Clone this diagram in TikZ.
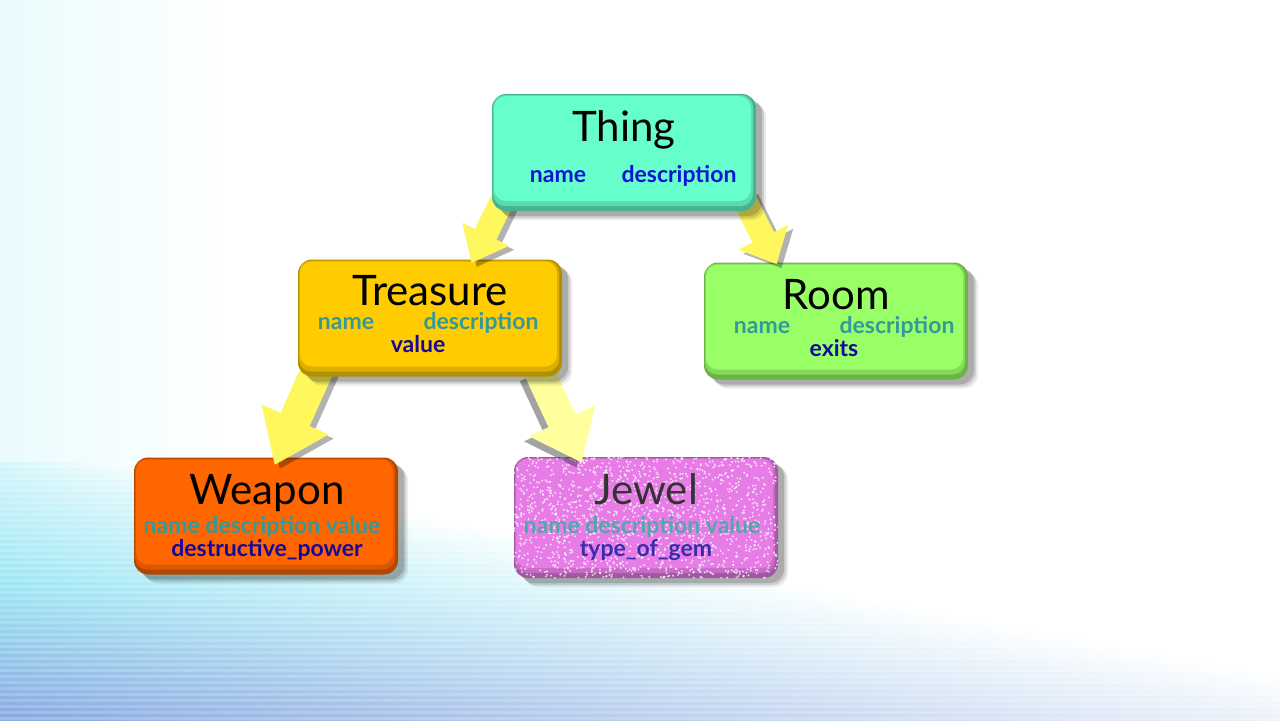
\documentclass[tikz,border=0pt]{standalone}
\usepackage{fontspec}
\setmainfont{Lato}
\usetikzlibrary{arrows.meta,shadows}
\pgfdeclarelayer{back}
\pgfdeclarelayer{lowbox}
\pgfdeclarelayer{lowarrow}
\pgfdeclarelayer{midbox}
\pgfdeclarelayer{midarrow}
\pgfsetlayers{back,lowbox,lowarrow,midbox,midarrow,main}
\definecolor{cThing}{HTML}{66FFCC}
\definecolor{cTreasure}{HTML}{FFCC00}
\definecolor{cRoom}{HTML}{99FF66}
\definecolor{cWeapon}{HTML}{FF6600}
\definecolor{cJewel}{HTML}{E77CE7}
\definecolor{attrBlue}{HTML}{0A14D2}
\definecolor{inhTeal}{HTML}{33999A}
\definecolor{ownBlue}{HTML}{14089C}
\definecolor{arrowY}{HTML}{FFF75E}
\definecolor{arrowJ}{HTML}{FFFF9E}
\definecolor{bgLeft}{HTML}{EAFBFD}
\definecolor{bgTop}{HTML}{D2F5FA}
\definecolor{bgMid}{HTML}{A0E6F3}
\definecolor{bgBot}{HTML}{8AABE0}
\begin{document}
\begin{tikzpicture}[x=0.5pt,y=-0.5pt,
  box/.style={rounded corners=7pt, minimum width=132pt, minimum height=58.5pt,
    inner sep=0pt, fill=#1!70!black,
    general shadow={fill=black, opacity=0.08, shadow xshift=5pt, shadow yshift=-4.5pt},
    general shadow={fill=black, opacity=0.12, shadow xshift=4pt, shadow yshift=-3.5pt},
    general shadow={fill=black, opacity=0.16, shadow xshift=3pt, shadow yshift=-2.5pt},
    path picture={
      \fill[#1!86!black, rounded corners=6pt]
        ([shift={(0.5pt,-0.5pt)}]path picture bounding box.north west) rectangle
        ([shift={(-1.5pt,2.5pt)}]path picture bounding box.south east);
      \fill[#1, rounded corners=6pt]
        ([shift={(1pt,-1pt)}]path picture bounding box.north west) rectangle
        ([shift={(-2.5pt,5pt)}]path picture bounding box.south east);
    }},
  title/.style={font=\fontsize{21}{24}\selectfont, text=black, anchor=base, inner sep=0pt},
  attr/.style={font=\fontsize{11.5}{13}\selectfont\bfseries, anchor=base, inner sep=0pt},
  bigarrow/.style args={#1/#2/#3}{line width=#1, draw=arrowY,
    -{Triangle[length=#3,width=#2]}},
  arrowshadow/.style={draw=black, transform canvas={shift={(2.5pt,-2pt)}}}
]
\useasboundingbox (0,0) rectangle (1280,720);

% ---------- background ----------
\begin{pgfonlayer}{back}
  \fill[white] (0,0) rectangle (1280,720);
  \shade[left color=bgLeft, right color=white] (0,0) rectangle (235,720);
  \begin{scope}
    \clip (0,0) rectangle (1280,720);
    \foreach \i in {0,...,86}{
      \pgfmathsetmacro\yy{462+3*\i}
      \pgfmathsetmacro\xe{140+3*\i*5.4}
      \ifnum\i<40
        \pgfmathtruncatemacro\pc{\i*100/39}
        \colorlet{bandc}{bgMid!\pc!bgTop}
      \else
        \pgfmathtruncatemacro\pc{min(100,(\i-40)*100/44)}
        \colorlet{bandc}{bgBot!\pc!bgMid}
      \fi
      \ifodd\i \colorlet{bandc}{bandc!82!white}\fi
      \shade[left color=bandc, middle color=bandc!60!white, right color=white]
        (0,\yy) rectangle (\xe,{\yy+3});
    }
  \end{scope}
\end{pgfonlayer}

% ---------- Thing ----------
\node[box=cThing] (thing) at (624,152.5) {};
\node[title] (thingT) at (624,141) {Thing};
\node[attr, text=attrBlue] (thingA1) at (558,182) {name};
\node[attr, text=attrBlue] (thingA2) at (679,182) {description};

% ---------- Treasure and Room ----------
\begin{pgfonlayer}{midbox}
  \node[box=cTreasure] (treasure) at (430,318) {};
  \node[title] (treasureT) at (430,305) {Treasure};
  \node[attr, text=inhTeal] (treasureA1) at (346,329) {name};
  \node[attr, text=inhTeal] (treasureA2) at (481,329) {description};
  \node[attr, text=ownBlue] (treasureA3) at (418,352) {value};

  \node[box=cRoom] (room) at (836,321) {};
  \node[title] (roomT) at (836,309) {Room};
  \node[attr, text=inhTeal] (roomA1) at (762,333) {name};
  \node[attr, text=inhTeal] (roomA2) at (897,333) {description};
  \node[attr, text=ownBlue] (roomA3) at (834,356) {exits};
\end{pgfonlayer}

% ---------- arrows from Thing ----------
\begin{pgfonlayer}{midarrow}
  \begin{scope}[transparency group, opacity=0.3]
    \draw[bigarrow=12pt/25pt/16pt, arrowshadow]
      ([shift={(6.5pt,8pt)}]thing.south west) -- ([shift={(87pt,-2pt)}]treasure.north west);
    \draw[bigarrow=12pt/27pt/15pt, arrowshadow]
      ([shift={(-7pt,8pt)}]thing.south east) -- ([shift={(36.5pt,-1pt)}]room.north west);
  \end{scope}
  \draw[bigarrow=12pt/25pt/16pt]
    ([shift={(6.5pt,8pt)}]thing.south west) -- ([shift={(87pt,-2pt)}]treasure.north west);
  \draw[bigarrow=12pt/27pt/15pt]
    ([shift={(-7pt,8pt)}]thing.south east) -- ([shift={(36.5pt,-1pt)}]room.north west);
\end{pgfonlayer}

% ---------- Weapon and Jewel ----------
\begin{pgfonlayer}{lowbox}
  \node[box=cWeapon] (weapon) at (266,516) {};
  \node[title] (weaponT) at (267,504) {Weapon};
  \node[attr, text=inhTeal] (weaponA1) at (262,533) {name description value};
  \node[attr, text=ownBlue] (weaponA2) at (267,556) {destructive\_power};

  \node[box=cJewel, minimum height=60.5pt] (jewel) at (646,517.5) {};
  \begin{scope}
    \clip[rounded corners=7pt] (jewel.south west) rectangle (jewel.north east);
    \pgfmathsetseed{7}
    \foreach \k in {1,...,1400}{
      \fill[white, opacity=0.75] ({514+264*rnd},{457+121*rnd}) circle (0.55pt);
    }
  \end{scope}
  \node[title, text=black!80] (jewelT) at (646,504) {Jewel};
  \node[attr, text=inhTeal!85!white] (jewelA1) at (642,533) {name description value};
  \node[attr, text=ownBlue!85!white] (jewelA2) at (646,556) {type\_of\_gem};
\end{pgfonlayer}

% ---------- arrows from Treasure ----------
\begin{pgfonlayer}{lowarrow}
  \begin{scope}[transparency group, opacity=0.3]
    \draw[bigarrow=16pt/35pt/25pt, arrowshadow]
      ([shift={(11pt,6pt)}]treasure.south west) -- ([shift={(70.5pt,-4pt)}]weapon.north west);
  \end{scope}
  \begin{scope}[transparency group, opacity=0.45]
    \draw[bigarrow=15pt/35pt/23pt, draw=black!80, transform canvas={shift={(-2.5pt,-2.5pt)}}]
      ([shift={(-12pt,3.5pt)}]treasure.south east) -- ([shift={(34pt,-3pt)}]jewel.north west);
  \end{scope}
  \draw[bigarrow=16pt/35pt/25pt]
    ([shift={(11pt,6pt)}]treasure.south west) -- ([shift={(70.5pt,-4pt)}]weapon.north west);
  \draw[bigarrow=15pt/35pt/23pt, draw=arrowJ]
    ([shift={(-12pt,3.5pt)}]treasure.south east) -- ([shift={(34pt,-3pt)}]jewel.north west);
\end{pgfonlayer}
\end{tikzpicture}
\end{document}
